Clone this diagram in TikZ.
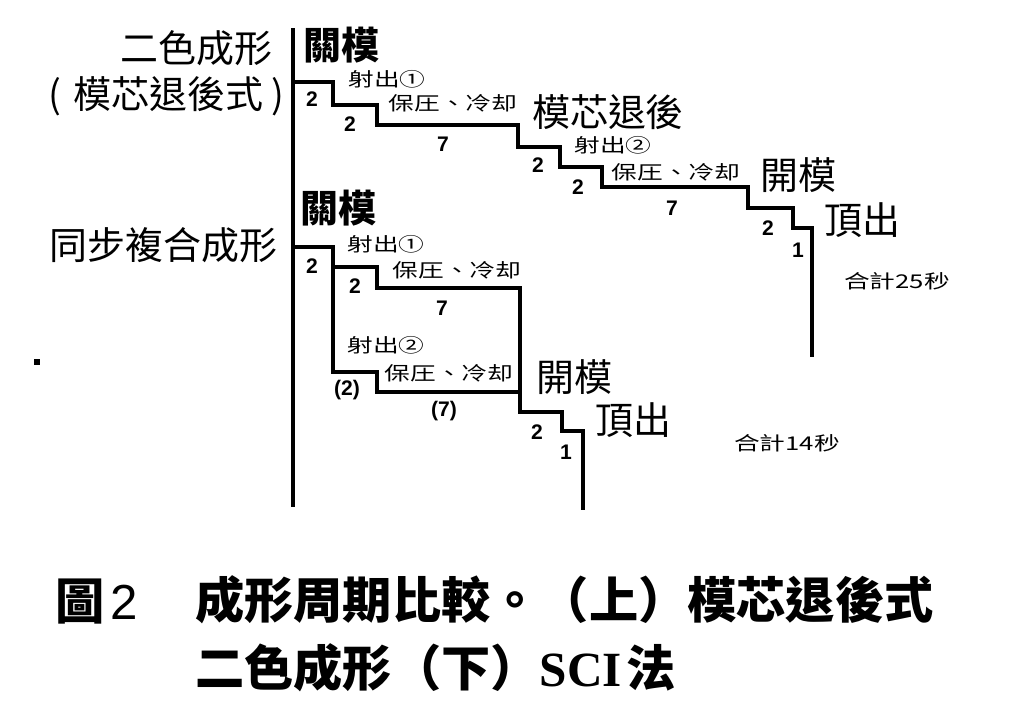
\documentclass[tikz,border=0pt]{standalone}
\usepackage{fontspec}
\newfontfamily\cjk{Noto Sans CJK TC}
\newfontfamily\numf{Liberation Sans}
\newfontfamily\serf{Liberation Serif}
\begin{document}
\begin{tikzpicture}[x=0.025cm,y=-0.025cm,
  chart/.style={line width=2.4pt, line join=miter, line cap=rect},
  big/.style={font=\fontsize{27}{27}\selectfont\cjk, inner sep=0pt},
  bigb/.style={font=\fontsize{27}{27}\selectfont\cjk\bfseries, inner sep=0pt},
  lbl/.style={font=\fontsize{15}{15}\selectfont\cjk, inner sep=0pt, xscale=1.22, yscale=0.9, transform shape},
  num/.style={font=\fontsize{15}{15}\selectfont\numf\bfseries, inner sep=0pt},
  captxt/.style={font=\fontsize{35}{35}\selectfont\cjk\bfseries, inner sep=0pt, anchor=west}]
\useasboundingbox (0,0) rectangle (1012,707);
\fill[white] (0,0) rectangle (1012,707);

% left titles
\node[big, anchor=east] (t1) at (273,48) {二色成形};
\node[big, anchor=east] (t2) at (285,96) {(\hspace{9pt}模芯退後式\hspace{6pt})};
\node[big, anchor=east] (t3) at (278,245) {同步複合成形};

% axis
\draw[chart] (293,30) -- (293,505);

% upper staircase
\draw[chart] (293,82) -| (333,105) -| (377,125) -| (518,147) -| (560,167) -| (602,187) -| (748,208) -| (793,228) -| (812,355);

\node[bigb] (u1) at (341,45) {關模};
\node[lbl] (u2) at (387,79) {射出①};
\node[lbl] (u3) at (453,103) {保圧、冷却};
\node[big] (u4) at (608,112) {模芯退後};
\node[lbl] (u5) at (613,145) {射出②};
\node[lbl] (u6) at (676,172) {保圧、冷却};
\node[big] (u7) at (798,175) {開模};
\node[big] (u8) at (862,220) {頂出};
\node[lbl] (u9) at (897,281) {合計25秒};
\node[num] (n1) at (312,99) {2};
\node[num] (n2) at (350,124) {2};
\node[num] (n3) at (443,144) {7};
\node[num] (n4) at (538,165) {2};
\node[num] (n5) at (578,187) {2};
\node[num] (n6) at (672,208) {7};
\node[num] (n7) at (768,228) {2};
\node[num] (n8) at (798,250) {1};

% lower staircase
\draw[chart] (293,247) -| (333,267) -| (377,288) -| (520,412) -| (562,431) -| (583,508);
\draw[chart] (333,267) -- (333,372) -| (377,392) -- (520,392);

\node[bigb] (l1) at (338,208) {關模};
\node[lbl] (l2) at (386,244) {射出①};
\node[lbl] (l3) at (457,270) {保圧、冷却};
\node[lbl] (l4) at (386,345) {射出②};
\node[lbl] (l5) at (449,373) {保圧、冷却};
\node[big] (l6) at (574,377) {開模};
\node[big] (l7) at (633,420) {頂出};
\node[lbl] (l8) at (787,443) {合計14秒};
\node[num] (m1) at (312,266) {2};
\node[num] (m2) at (355,286) {2};
\node[num] (m3) at (442,308) {7};
\node[num] (m4) at (347,390) {(2)};
\node[num] (m5) at (444,411) {(7)};
\node[num] (m6) at (537,432) {2};
\node[num] (m7) at (566,452) {1};

% speck
\fill (34,359) rectangle (40,365);

% caption
\node[captxt] (c0) at (55,602) {圖\hspace{4pt}{\numf\mdseries 2}};
\node[captxt] (c1) at (195,600) {成形周期比較。（上）模芯退後式};
\node[captxt] (c2) at (195,668) {二色成形（下）{\serf\bfseries SCI}\hspace{3pt}法};
\end{tikzpicture}
\end{document}
